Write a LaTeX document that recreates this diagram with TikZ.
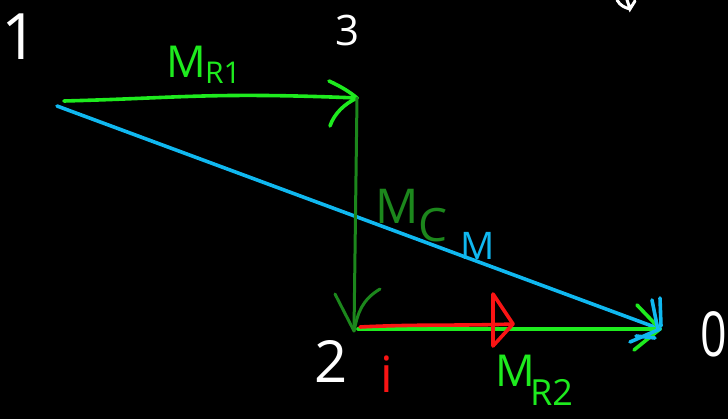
\documentclass[tikz,border=0pt]{standalone}
\usepackage{fontspec}
\setmainfont{Open Sans}
\usetikzlibrary{calc}
\definecolor{lgreen}{RGB}{30,235,30}
\definecolor{dgreen}{RGB}{28,135,28}
\definecolor{cyanb}{RGB}{16,184,240}
\definecolor{redp}{RGB}{250,20,20}
\begin{document}
\begin{tikzpicture}[x=1pt,y=-1pt,
  stroke/.style={line width=3.6pt,line cap=round,line join=round},
  lbl/.style={inner sep=0pt,outer sep=0pt},
  wtxt/.style={lbl,text=white,font=\fontsize{#1}{#1}\selectfont},
  ctxt/.style 2 args={lbl,text=#1,font=\fontsize{#2}{#2}\selectfont}]
\fill[black] (0,0) rectangle (728,419);
\useasboundingbox (0,0) rectangle (728,419);
% points
\coordinate (s1) at (64,101);
\coordinate (c1) at (57,106);
\coordinate (p3) at (357,98);
\coordinate (p2) at (354,331);
\coordinate (g2) at (358,329);
\coordinate (p0) at (660,329);
\coordinate (r0) at (360,327);
\coordinate (rt) at (513,324);
% number labels
\node[wtxt=64] (n1) at (20,37) {1};
\node[wtxt=42] (n3) at (348,31) {3};
\node[wtxt=58] (n2) at (331,362) {2};
\node[wtxt=62,xscale=0.75] (n0) at (714,334) {0};
% top green arrow M_R1
\draw[stroke,lgreen] (s1) .. controls (180,98) and (210,92) .. (p3);
\draw[stroke,lgreen] (329,81) .. controls (340,86) and (350,92) .. (p3);
\draw[stroke,lgreen] (330,126) .. controls (334,114) and (344,104) .. (p3);
% cyan M
\draw[stroke,cyanb] (c1) -- (p0);
% dark green M_C
\draw[line width=3pt,dgreen,line cap=round] (p3) -- (p2);
\draw[line width=3pt,dgreen,line cap=round,line join=round] (335,294) -- (p2) .. controls (358,312) and (362,300) .. (380,289);
% bottom green M_R2
\draw[stroke,lgreen] (g2) -- (p0);
\draw[stroke,lgreen] (637,305) -- (p0) -- (634,350);
% cyan arrow head blob
\draw[stroke,cyanb] (652,300) -- (658,330) (660,298) -- (661,326) (630,342) -- (p0) (636,336) -- (655,338);
% red i
\draw[stroke,redp] (r0) .. controls (420,324) and (460,326) .. (rt);
\draw[stroke,redp] (493,294) -- (493,346) -- (rt) -- cycle;
% labels
\node[ctxt={lgreen}{44},anchor=south west] (mr1) at (166,78) {M};
\node[ctxt={lgreen}{30},anchor=south west] (mr1s) at (205,84) {R1};
\node[ctxt={dgreen}{48},anchor=south west] (mc) at (375,224) {M};
\node[ctxt={dgreen}{46},anchor=south west] (mcs) at (418,242) {C};
\node[ctxt={cyanb}{38},anchor=south west] (mm) at (460,260) {M};
\node[ctxt={redp}{50},anchor=south] (ni) at (387,392) {i};
\node[ctxt={lgreen}{44},anchor=south west] (mr2) at (495,387) {M};
\node[ctxt={lgreen}{36},anchor=south west] (mr2s) at (530,406) {R2};
% fragment at top edge
\draw[line width=3pt,white,line cap=round] (617,0) .. controls (620,6) and (626,8) .. (630,9) (627,0) -- (630,9) -- (635,1);
\end{tikzpicture}
\end{document}
